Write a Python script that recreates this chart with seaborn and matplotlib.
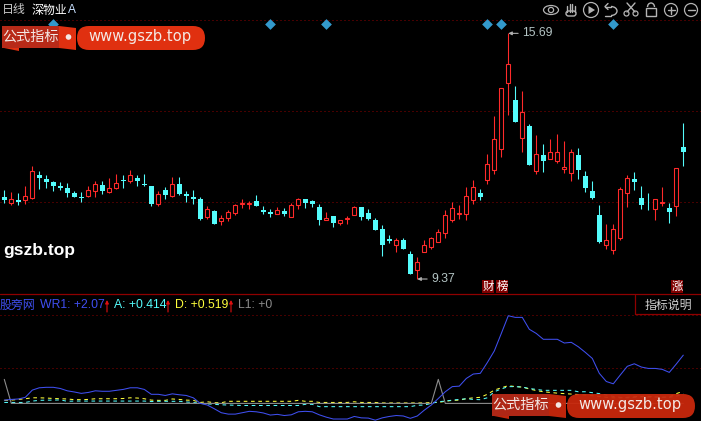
import numpy as np
import pandas as pd
import matplotlib
matplotlib.use("Agg")
import matplotlib.pyplot as plt
from matplotlib.patches import Rectangle, Circle, Ellipse, Arc, FancyBboxPatch, Polygon
import seaborn as sns

# daily candles
opens = [11.49,11.33,11.41,11.41,11.46,12.05,11.95,11.87,11.77,11.71,
         11.59,11.47,11.51,11.64,11.79,11.62,11.71,11.92,11.90,11.97,
         11.81,11.76,11.31,11.66,11.51,11.81,11.56,11.48,11.43,10.97,
         11.12,10.87,10.94,11.08,11.30,11.30,11.38,11.15,11.10,11.05,
         11.12,10.97,11.28,11.43,11.37,11.22,10.89,10.99,10.82,10.91,
         11.02,11.22,11.07,10.89,10.66,10.41,10.25,10.37,10.01,9.60,
         10.07,10.19,10.32,10.55,10.89,11.04,11.04,11.40,11.58,11.92,
         12.17,12.72,14.42,13.98,13.01,13.31,12.16,12.56,12.47,12.41,
         12.20,12.11,12.56,12.02,11.63,11.02,10.25,10.12,10.43,11.58,
         11.94,11.45,11.40,11.17,11.33,11.20,11.25,12.77]
closes = [11.40,11.43,11.34,11.51,12.15,11.97,11.87,11.77,11.70,11.58,
          11.48,11.45,11.65,11.81,11.63,11.70,11.84,11.90,12.04,11.89,
          11.79,11.30,11.57,11.53,11.81,11.56,11.51,11.43,10.91,11.16,
          10.79,10.93,11.09,11.27,11.33,11.33,11.25,11.09,11.04,11.15,
          11.04,11.27,11.43,11.33,11.30,10.89,10.94,10.81,10.88,10.94,
          11.22,10.97,10.91,10.63,10.25,10.36,10.37,10.14,9.50,9.81,
          10.25,10.43,10.58,11.02,11.20,11.07,11.51,11.74,11.48,12.33,
          12.97,14.28,14.89,13.42,13.66,12.30,12.59,12.41,12.63,12.65,
          12.25,12.63,12.17,11.71,11.45,10.32,10.37,10.66,11.69,11.97,
          11.87,11.27,11.39,11.43,11.36,11.09,12.23,12.64]
highs = [11.66,11.62,11.59,11.76,12.28,12.15,12.05,11.90,11.87,11.85,
         11.64,11.62,11.76,11.89,11.89,11.98,12.08,12.05,12.17,12.05,
         12.07,11.76,11.63,11.75,11.99,11.99,11.63,11.66,11.48,11.25,
         11.15,11.02,11.15,11.30,11.42,11.38,11.53,11.25,11.16,11.22,
         11.20,11.33,11.45,11.43,11.40,11.30,11.09,10.99,10.89,10.99,
         11.25,11.22,11.17,10.94,10.76,10.50,10.43,10.43,10.09,9.94,
         10.37,10.45,10.66,11.15,11.35,11.27,11.74,11.92,11.69,12.59,
         13.56,14.28,15.69,14.34,14.21,13.35,13.07,12.84,12.97,13.10,
         12.92,12.71,12.74,12.15,11.89,11.27,10.79,10.79,11.74,12.05,
         12.12,11.76,11.58,11.43,11.74,11.33,12.23,13.38]
lows = [11.32,11.27,11.27,11.30,11.43,11.68,11.71,11.63,11.66,11.48,
        11.47,11.35,11.47,11.48,11.57,11.58,11.69,11.71,11.84,11.76,
        11.76,11.25,11.25,11.42,11.48,11.53,11.35,11.30,10.89,10.91,
        10.79,10.76,10.86,11.02,11.20,11.17,11.25,11.04,10.97,11.04,
        10.99,10.97,11.17,11.20,11.22,10.76,10.89,10.71,10.76,10.79,
        11.02,10.89,10.89,10.63,9.96,10.30,10.07,10.14,9.50,9.37,
        10.07,10.14,10.32,10.43,10.84,10.91,10.89,11.30,11.40,11.81,
        12.07,12.52,13.59,13.42,12.65,12.30,12.07,12.12,12.46,12.36,
        12.10,11.89,11.94,11.61,11.43,10.30,10.14,10.01,10.37,11.22,
        11.66,11.17,11.15,10.89,11.25,10.81,10.99,12.28]

# indicator panel
wr1 = [0.14,0.17,0.19,0.26,0.57,0.67,0.69,0.69,0.64,0.54,
       0.49,0.43,0.47,0.54,0.52,0.52,0.56,0.60,0.67,0.67,
       0.60,0.39,0.39,0.34,0.41,0.37,0.34,0.24,0.00,-0.07,
       -0.23,-0.40,-0.46,-0.46,-0.40,-0.34,-0.36,-0.41,-0.50,-0.47,
       -0.52,-0.49,-0.36,-0.34,-0.36,-0.49,-0.59,-0.67,-0.67,-0.67,
       -0.56,-0.62,-0.63,-0.72,-0.62,-0.56,-0.52,-0.54,-0.64,-0.54,
       -0.29,-0.07,0.21,0.50,0.72,0.74,1.07,1.26,1.29,1.75,
       2.25,3.00,3.76,3.69,3.69,3.18,3.00,2.75,2.75,2.75,
       2.59,2.62,2.43,2.19,1.93,1.29,0.94,0.84,1.22,1.59,
       1.70,1.56,1.50,1.50,1.46,1.33,1.69,2.07]
a_line = [0.04,0.04,0.04,0.04,0.10,0.13,0.14,0.14,0.15,0.09,
          0.10,0.10,0.10,0.10,0.10,0.10,0.10,0.10,0.10,0.10,
          0.10,0.08,0.09,0.09,0.09,0.09,0.06,0.04,0.00,-0.02,
          -0.04,-0.06,-0.07,-0.08,-0.09,-0.09,-0.09,-0.09,-0.09,-0.09,
          -0.09,-0.09,-0.09,-0.04,-0.04,-0.14,-0.14,-0.14,-0.14,-0.14,
          -0.14,-0.14,-0.14,-0.14,-0.14,-0.14,-0.14,-0.14,-0.14,-0.08,
          -0.07,0.00,0.07,0.10,0.14,0.17,0.20,0.17,0.16,0.24,
          0.50,0.62,0.72,0.72,0.70,0.64,0.60,0.56,0.56,0.56,
          0.56,0.56,0.50,0.50,0.46,0.42,0.36,0.30,0.26,0.24,
          0.26,0.28,0.27,0.27,0.26,0.26,0.31,0.414]
d_line = [0.13,0.14,0.17,0.20,0.24,0.24,0.23,0.21,0.20,0.19,
          0.16,0.16,0.17,0.20,0.20,0.20,0.20,0.21,0.24,0.23,
          0.20,0.14,0.13,0.13,0.19,0.17,0.14,0.13,0.04,0.07,
          0.03,0.03,0.09,0.09,0.09,0.09,0.09,0.09,0.09,0.09,
          0.09,0.09,0.13,0.09,0.09,0.04,0.04,0.04,0.04,0.04,
          0.07,0.04,0.04,0.04,0.02,0.02,0.02,0.02,0.02,0.02,
          0.02,0.04,0.04,0.09,0.13,0.14,0.20,0.24,0.26,0.39,
          0.57,0.67,0.76,0.72,0.70,0.62,0.55,0.50,0.47,0.44,
          0.42,0.40,0.38,0.36,0.33,0.30,0.26,0.24,0.24,0.26,
          0.29,0.30,0.30,0.28,0.26,0.28,0.42,0.519]
l1_line = [0.0] * 98
l1_line[0] = 1.03
l1_line[62] = 1.03

signal_days = [7, 38, 46, 69, 71, 87]
signal_price = 15.93
grid_main = [16.03, 13.69, 11.35]
grid_sub = [3.79, 1.52]

RED = "#ff2a2a"
CYAN = "#54fcfc"
BLUE = "#3f4ff0"
YELLOW = "#ffff3c"
GRAY = "#8c8c8c"
GRID = "#8f0000"
CJK = ["Noto Sans CJK SC", "DejaVu Sans"]
LAT = ["Liberation Sans", "DejaVu Sans"]

sns.set_theme(style="dark", rc={"axes.facecolor": "black", "figure.facecolor": "black", "savefig.facecolor": "black",
                                "patch.force_edgecolor": False})
plt.rcParams["font.family"] = CJK

fig = plt.figure(figsize=(7.01, 4.21), dpi=100)
W, H = 701.0, 421.0
ax = fig.add_axes([0, (H - 292) / H, 1, 292 / H])
ax2 = fig.add_axes([0, 0, 1, (H - 295) / H])
ov = fig.add_axes([0, 0, 1, 1], zorder=5)
ov.patch.set_alpha(0)
ov.set_xlim(0, W)
ov.set_ylim(H, 0)
for a in (ax, ax2, ov):
    a.set_xticks([])
    a.set_yticks([])
    for s in a.spines.values():
        s.set_visible(False)

days = np.arange(len(opens))
df = pd.DataFrame({"day": days, "open": opens, "close": closes, "high": highs, "low": lows,
                   "wr1": wr1, "a": a_line, "d": d_line, "l1": l1_line})
up = df[df["close"] >= df["open"]]
down = df[df["close"] < df["open"]]

# candles
for part, col in ((up, RED), (down, CYAN)):
    ax.vlines(part["day"], part["low"], part["high"], color=col, lw=0.78, zorder=2)
ax.bar(down["day"], down["open"] - down["close"], bottom=down["close"], width=5 / 7,
       color=CYAN, edgecolor="none", linewidth=0, zorder=3, antialiased=False)
ax.bar(up["day"], up["close"] - up["open"], bottom=up["open"], width=4 / 7,
       facecolor="black", edgecolor=RED, linewidth=0.78, zorder=3)
for g in grid_main:
    ax.axhline(g, color=GRID, lw=0.72, ls=(0, (1, 3)), zorder=1)
sig = pd.DataFrame({"day": signal_days, "price": [signal_price] * len(signal_days)})
sns.scatterplot(data=sig, x="day", y="price", marker="D", s=30, color="#3399cc", linewidth=0, ax=ax, zorder=4)
ax.set_xlim(-4.3 / 7, (W - 4.3) / 7)
ax.set_ylim(9.036, 16.548)
ax.set_xlabel("")
ax.set_ylabel("")

# high / low marks
ax.annotate("15.69", xy=(72, 15.69), xytext=(74, 15.69), color="#b4c4c4", fontsize=8.8, family=LAT, va="center",
            arrowprops=dict(arrowstyle="-|>", color="#b0b0b0", lw=0.8, mutation_scale=5, shrinkA=1, shrinkB=0))
ax.annotate("9.37", xy=(59, 9.37), xytext=(61, 9.37), color="#b4c4c4", fontsize=8.8, family=LAT, va="center",
            arrowprops=dict(arrowstyle="-|>", color="#b0b0b0", lw=0.8, mutation_scale=5, shrinkA=1, shrinkB=0))

# indicator lines
sns.lineplot(data=df, x="day", y="wr1", color=BLUE, lw=0.75, errorbar=None, ax=ax2, zorder=3)
sns.lineplot(data=df, x="day", y="d", color=YELLOW, lw=0.75, linestyle=(0, (3.5, 3.5)), errorbar=None, ax=ax2, zorder=2)
sns.lineplot(data=df, x="day", y="a", color=CYAN, lw=0.75, linestyle=(0, (3.5, 3.5)), errorbar=None, ax=ax2, zorder=2)
sns.lineplot(data=df, x="day", y="l1", color=GRAY, lw=0.8, errorbar=None, ax=ax2, zorder=2)
for g in grid_sub:
    ax2.axhline(g, color=GRID, lw=0.72, ls=(0, (1, 3)), zorder=1)
ax2.set_xlim(-4.3 / 7, (W - 4.3) / 7)
ax2.set_ylim(-0.755, 4.65)
ax2.set_xlabel("")
ax2.set_ylabel("")

# header text
ov.text(2, 10, "日线", color="#c8c8c8", fontsize=8.6, va="center")
ov.text(32, 10, "深物业", color="white", fontsize=8.6, va="center")
ov.text(68, 10, "A", color="#c8e0ff", fontsize=8.6, va="center", family=LAT)
ov.text(3, 251, "gszb.top", color="white", fontsize=12.5, fontweight="bold", va="center", family=LAT)

# tags above the panel line
for x0, ch in ((482, "财"), (496, "榜"), (671, "涨")):
    ov.add_patch(Rectangle((x0, 280), 12, 13, color="#800000", lw=0))
    ov.text(x0 + 6, 286.5, ch, color="white", fontsize=8.2, ha="center", va="center")

# panel frame
ov.plot([0, W], [294, 294], color="#8f0000", lw=0.9)
ov.plot([635, 635, W], [295, 314, 314], color="#8f0000", lw=0.9)
ov.add_patch(Rectangle((636, 295), 65, 19, color="black", lw=0))
ov.text(668, 305, "指标说明", color="#d0d0d0", fontsize=8.6, ha="center", va="center")

# legend row
for x0, txt, col, fam in ((0, "股旁网", BLUE, CJK), (40, "WR1: +2.07", BLUE, LAT), (114, "A: +0.414", CYAN, LAT),
                          (175, "D: +0.519", YELLOW, LAT), (238, "L1: +0", GRAY, LAT)):
    ov.text(x0, 305, txt, color=col, fontsize=8.8 if fam is LAT else 8.6, va="center", family=fam)
for x0 in (107, 168, 231):
    ov.annotate("", xy=(x0, 300), xytext=(x0, 312),
                arrowprops=dict(arrowstyle="-|>", color="#e01010", lw=0.8, mutation_scale=5, shrinkA=0, shrinkB=0))


def banner(x0, y0, fc, alpha):
    # red watermark: flag plus pill
    ov.add_patch(Rectangle((x0, y0), 57, 22, color="#b82a18", lw=0, alpha=alpha))
    ov.add_patch(Polygon([(x0 + 57, y0), (x0 + 74, y0 + 2), (x0 + 74, y0 + 24), (x0 + 57, y0 + 22)],
                         color=fc, lw=0, alpha=alpha))
    ov.add_patch(Polygon([(x0 + 2, y0 + 22), (x0 + 17, y0 + 22), (x0 + 17, y0 + 25)], color=fc, lw=0, alpha=alpha))
    ov.add_patch(FancyBboxPatch((x0 + 75, y0), 128, 24, boxstyle="round,pad=0,rounding_size=12",
                                color=fc, lw=0, alpha=alpha))
    ov.text(x0 + 29, y0 + 11, "公式指标", color="#f4e8e4", fontsize=10.2, ha="center", va="center")
    ov.add_patch(Circle((x0 + 66.5, y0 + 11), 2.8, color="#f4e8e4", lw=0))
    ov.text(x0 + 138, y0 + 11, "www.gszb.top", color="#f4e8e4", fontsize=10.6, ha="center", va="center",
            family=["DejaVu Sans"])


banner(2, 26, "#e03010", 1.0)
banner(492, 394, "#c8280c", 0.95)

# toolbar icons
ic = "#b4b4b4"
ov.add_patch(Ellipse((551, 10), 15, 9, fill=False, ec=ic, lw=0.9))
ov.add_patch(Circle((551, 10), 2.6, fill=False, ec=ic, lw=0.9))
for dx, top in ((-4, 6), (-1.5, 4), (1, 4), (3.5, 6)):
    ov.plot([571 + dx, 571 + dx], [top, 12], color=ic, lw=1)
ov.add_patch(FancyBboxPatch((566, 11), 10, 5, boxstyle="round,pad=0,rounding_size=2.5", fill=False, ec=ic, lw=1))
ov.add_patch(Circle((591, 10), 7.5, fill=False, ec=ic, lw=0.9))
ov.add_patch(Polygon([(588.5, 6), (588.5, 14), (595, 10)], color=ic, lw=0))
ov.add_patch(Arc((611, 11), 12, 9, theta1=-90, theta2=90, ec=ic, lw=1))
ov.plot([605, 611, 611], [15.5, 15.5, 15.5], color=ic, lw=1)
ov.plot([605, 611], [6.5, 6.5], color=ic, lw=1)
ov.plot([608, 605, 608], [3.5, 6.5, 9.5], color=ic, lw=1)
ov.plot([627, 635], [3, 12], color=ic, lw=1)
ov.plot([635, 627], [3, 12], color=ic, lw=1)
ov.add_patch(Circle((626.5, 13.5), 2.5, fill=False, ec=ic, lw=0.9))
ov.add_patch(Circle((635.5, 13.5), 2.5, fill=False, ec=ic, lw=0.9))
ov.add_patch(Rectangle((646, 8), 10, 8, fill=False, ec=ic, lw=1))
ov.add_patch(Arc((651, 7), 7, 8, theta1=180, theta2=360, ec=ic, lw=1))
for cx in (671, 691):
    ov.add_patch(Circle((cx, 10), 6.5, fill=False, ec=ic, lw=0.9))
    ov.plot([cx - 3.5, cx + 3.5], [10, 10], color=ic, lw=1)
ov.plot([671, 671], [6.5, 13.5], color=ic, lw=1)

ov.set_xlim(0, W)
ov.set_ylim(H, 0)
fig.savefig("out.png", dpi=100)
